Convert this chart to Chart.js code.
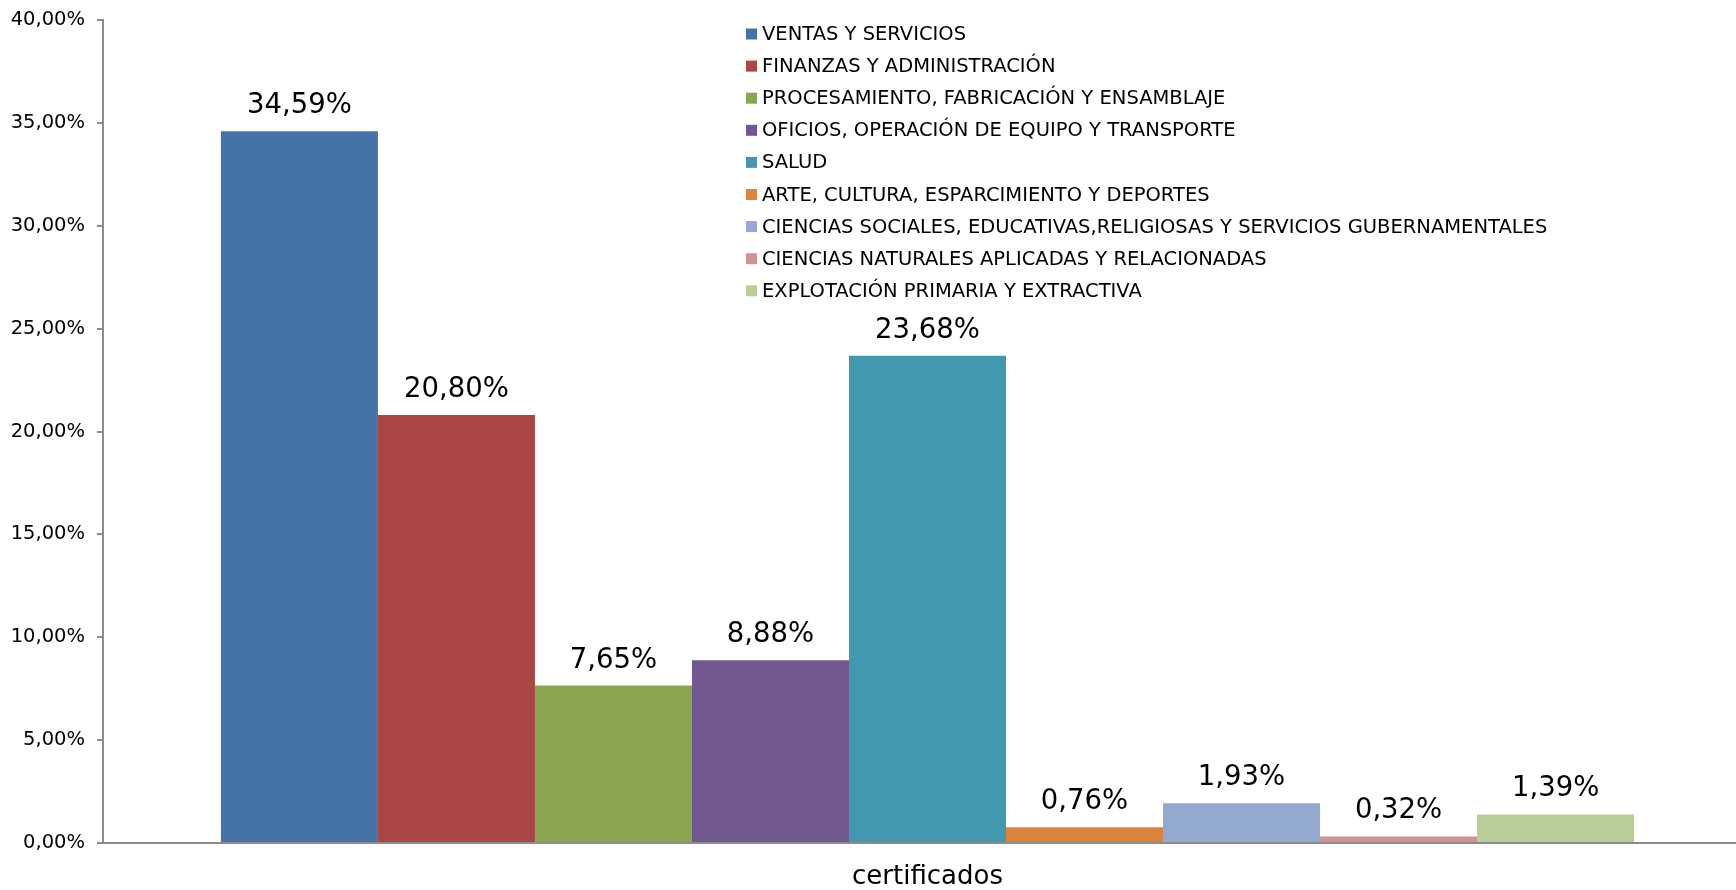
<!DOCTYPE html>
<html>
<head>
<meta charset="utf-8">
<script src="https://cdn.jsdelivr.net/npm/chart.js@4.4.0/dist/chart.umd.min.js"></script>
<style>
  html, body { margin: 0; padding: 0; background: #fff; overflow: hidden; }
  #wrap { width: 1752px; height: 890px; }
</style>
</head>
<body>
<div id="wrap"><canvas id="chart" width="1752" height="890"></canvas></div>
<script>
// Data
const categories = ['certificados'];
const seriesNames = [
  'VENTAS Y SERVICIOS',
  'FINANZAS Y ADMINISTRACIÓN',
  'PROCESAMIENTO, FABRICACIÓN Y ENSAMBLAJE',
  'OFICIOS, OPERACIÓN DE EQUIPO Y TRANSPORTE',
  'SALUD',
  'ARTE, CULTURA, ESPARCIMIENTO Y DEPORTES',
  'CIENCIAS SOCIALES, EDUCATIVAS,RELIGIOSAS Y SERVICIOS GUBERNAMENTALES',
  'CIENCIAS NATURALES APLICADAS Y RELACIONADAS',
  'EXPLOTACIÓN PRIMARIA Y EXTRACTIVA'
];
const seriesValues = [34.59, 20.80, 7.65, 8.88, 23.68, 0.76, 1.93, 0.32, 1.39];
const seriesColors = ['#4572A7', '#AA4643', '#89A54E', '#71588F', '#4198AF', '#DB843D', '#93A9CF', '#D19392', '#B9CD96'];
const yTicks = [0, 5, 10, 15, 20, 25, 30, 35, 40];

const FONT = '"DejaVu Sans", Verdana, sans-serif';

function pct(v) {
  return v.toFixed(2).replace('.', ',') + '%';
}

// Value labels above each bar
const barLabels = {
  id: 'barLabels',
  afterDatasetsDraw(chart) {
    const ctx = chart.ctx;
    ctx.save();
    ctx.font = '27.5px ' + FONT;
    ctx.fillStyle = '#000';
    ctx.textAlign = 'center';
    ctx.textBaseline = 'alphabetic';
    chart.data.datasets.forEach((ds, i) => {
      const bar = chart.getDatasetMeta(i).data[0];
      ctx.fillText(pct(ds.data[0]), bar.x, bar.y - 18);
    });
    ctx.restore();
  }
};

// Legend drawn inside the plot, top middle
const innerLegend = {
  id: 'innerLegend',
  afterDraw(chart) {
    const ctx = chart.ctx;
    const x0 = 746, y0 = 34, rowH = 32.1, box = 11;
    ctx.save();
    ctx.font = '19.5px ' + FONT;
    ctx.textBaseline = 'middle';
    ctx.textAlign = 'left';
    chart.data.datasets.forEach((ds, i) => {
      const y = y0 + i * rowH;
      ctx.fillStyle = ds.backgroundColor;
      ctx.fillRect(x0, y - box / 2, box, box);
      ctx.fillStyle = '#000';
      ctx.fillText(ds.label, x0 + 16, y + 1);
    });
    ctx.restore();
  }
};

new Chart(document.getElementById('chart'), {
  type: 'bar',
  data: {
    labels: categories,
    datasets: seriesNames.map((name, i) => ({
      label: name,
      data: [seriesValues[i]],
      backgroundColor: seriesColors[i],
      borderWidth: 0
    }))
  },
  options: {
    responsive: false,
    animation: false,
    layout: { padding: 0 },
    datasets: {
      bar: { categoryPercentage: 0.857, barPercentage: 1.0 }
    },
    plugins: {
      legend: { display: false },
      tooltip: { enabled: false }
    },
    scales: {
      x: {
        grid: { display: false, drawTicks: false },
        border: { color: '#8c8c8c', width: 2 },
        ticks: {
          color: '#000',
          font: { family: FONT, size: 26 },
          padding: 19
        },
        afterFit(scale) { scale.height = 47; }
      },
      y: {
        min: 0,
        max: 40,
        afterBuildTicks(scale) { scale.ticks = yTicks.map(v => ({ value: v })); },
        grid: { drawOnChartArea: false, drawTicks: true, tickLength: 6, color: '#8c8c8c', lineWidth: 2 },
        border: { color: '#8c8c8c', width: 2 },
        ticks: {
          color: '#000',
          font: { family: FONT, size: 19.5 },
          padding: 12,
          callback: v => pct(v)
        },
        afterFit(scale) {
          scale.width = 103;
          scale.paddingTop = 20;
          scale.paddingBottom = 0;
        }
      }
    }
  },
  plugins: [barLabels, innerLegend]
});
</script>
</body>
</html>
